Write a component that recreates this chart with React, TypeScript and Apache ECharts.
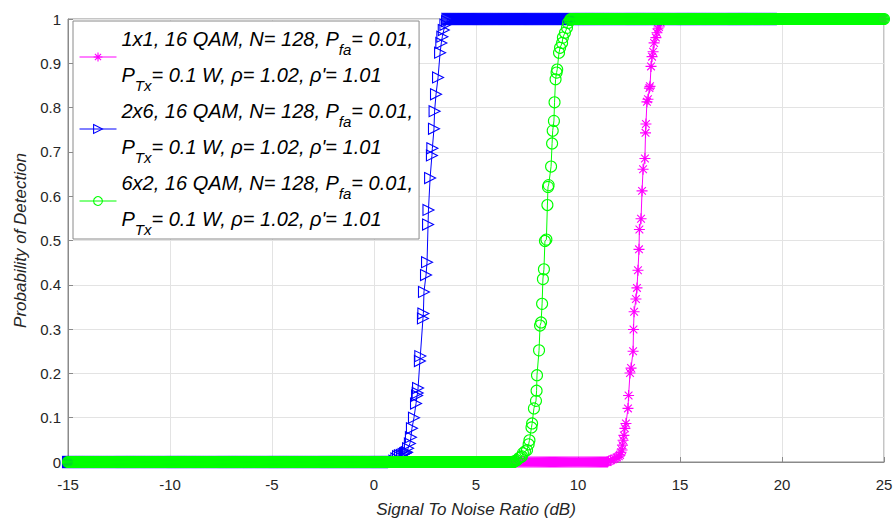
import { useEffect, useRef } from 'react';
import * as echarts from 'echarts';

// SNR sampling grid (dB) used by the simulation
const snrStart = -15;
const snrStep = 0.05;

// Series labels (rich text for subscripts)
const seriesNames = [
  '1x1, 16 QAM, N= 128, Pfa= 0.01, PTx= 0.1 W, ρ= 1.02, ρ\'= 1.01',
  '2x6, 16 QAM, N= 128, Pfa= 0.01, PTx= 0.1 W, ρ= 1.02, ρ\'= 1.01',
  '6x2, 16 QAM, N= 128, Pfa= 0.01, PTx= 0.1 W, ρ= 1.02, ρ\'= 1.01',
];
const legendLabels = [
  '1x1, 16 QAM, N= 128, P{s|fa}= 0.01,\nP{s|Tx}= 0.1 W, ρ= 1.02, ρ\'= 1.01',
  '2x6, 16 QAM, N= 128, P{s|fa}= 0.01,\nP{s|Tx}= 0.1 W, ρ= 1.02, ρ\'= 1.01',
  '6x2, 16 QAM, N= 128, P{s|fa}= 0.01,\nP{s|Tx}= 0.1 W, ρ= 1.02, ρ\'= 1.01',
];

// SNR range of each series
const seriesEnd = [25, 20, 25];

// Transition points [SNR dB, Pd]; before them Pd = 0, after them Pd = 1
const magentaTransition: number[][] = [
  [11.5, 0.002], [11.6, 0.004], [11.72, 0.006], [11.8, 0.008], [11.91, 0.010], [12.0, 0.013],
  [12.06, 0.016], [12.11, 0.022], [12.16, 0.027], [12.18, 0.038], [12.21, 0.049], [12.25, 0.060],
  [12.30, 0.076], [12.35, 0.087], [12.45, 0.121], [12.48, 0.150], [12.55, 0.201], [12.60, 0.212],
  [12.70, 0.250], [12.72, 0.299], [12.75, 0.339], [12.84, 0.368], [12.89, 0.393], [12.94, 0.433],
  [12.99, 0.480], [13.01, 0.525], [13.09, 0.549], [13.14, 0.612], [13.19, 0.661], [13.28, 0.685],
  [13.31, 0.743], [13.33, 0.763], [13.38, 0.813], [13.43, 0.819], [13.50, 0.844], [13.53, 0.848],
  [13.58, 0.893], [13.63, 0.915], [13.68, 0.926], [13.73, 0.946], [13.82, 0.958], [13.87, 0.969],
  [13.92, 0.978], [13.97, 0.982], [14.05, 0.992],
];
const blueTransition: number[][] = [
  [1.0, 0.003], [1.1, 0.008], [1.18, 0.013], [1.27, 0.015], [1.37, 0.016], [1.45, 0.018],
  [1.52, 0.020], [1.57, 0.021], [1.62, 0.022], [1.67, 0.031], [1.76, 0.042], [1.81, 0.056],
  [1.86, 0.076], [1.96, 0.100], [2.06, 0.132], [2.11, 0.150], [2.14, 0.156], [2.16, 0.167],
  [2.25, 0.228], [2.27, 0.239], [2.40, 0.324], [2.42, 0.335], [2.45, 0.384], [2.55, 0.422],
  [2.60, 0.451], [2.65, 0.536], [2.67, 0.569], [2.75, 0.641], [2.84, 0.692], [2.86, 0.708],
  [2.94, 0.752], [2.97, 0.792], [3.04, 0.830], [3.14, 0.868], [3.24, 0.924], [3.30, 0.946],
  [3.35, 0.960], [3.42, 0.975], [3.50, 0.987], [3.58, 0.995],
];
const greenTransition: number[][] = [
  [6.9, 0.002], [7.0, 0.004], [7.11, 0.009], [7.2, 0.011], [7.25, 0.013], [7.30, 0.020],
  [7.40, 0.024], [7.50, 0.027], [7.58, 0.040], [7.62, 0.049], [7.72, 0.078], [7.75, 0.087],
  [7.84, 0.121], [7.94, 0.138], [7.97, 0.161], [7.99, 0.196], [8.09, 0.252], [8.14, 0.308],
  [8.19, 0.315], [8.24, 0.357], [8.28, 0.413], [8.33, 0.435], [8.38, 0.499], [8.45, 0.502],
  [8.50, 0.580], [8.53, 0.621], [8.56, 0.625], [8.68, 0.667], [8.73, 0.719], [8.76, 0.748],
  [8.82, 0.770], [8.85, 0.812], [8.90, 0.864], [8.95, 0.879], [8.98, 0.886], [9.07, 0.924],
  [9.12, 0.935], [9.22, 0.946], [9.26, 0.958], [9.36, 0.969], [9.46, 0.980], [9.51, 0.991],
  [9.61, 0.998],
];

const xTicks = { min: -15, max: 25, interval: 5 };
const yTicks = { min: 0, max: 1, interval: 0.1 };

function buildData(transition: number[][], end: number): number[][] {
  const first = transition[0][0];
  const last = transition[transition.length - 1][0];
  const pts: number[][] = [];
  for (let i = 0; ; i++) {
    const x = +(snrStart + i * snrStep).toFixed(4);
    if (x > end + 1e-9) break;
    if (x < first - 1e-9) pts.push([x, 0]);
  }
  for (const p of transition) pts.push(p);
  for (let i = 0; ; i++) {
    const x = +(snrStart + i * snrStep).toFixed(4);
    if (x > end + 1e-9) break;
    if (x > last + 1e-9) pts.push([x, 1]);
  }
  return pts;
}

const FONT = '"Liberation Sans", Arial, Helvetica, sans-serif';

const symbols = [
  'path://M5 0L5 10M0 5L10 5M1.5 1.5L8.5 8.5M8.5 1.5L1.5 8.5',
  'path://M0 0L10 5L0 10Z',
  'circle',
];
const colors = ['#ff00ff', '#0000ff', '#00ff00'];
const transitions = [magentaTransition, blueTransition, greenTransition];

export default function App() {
  const ref = useRef<HTMLDivElement>(null);
  useEffect(() => {
    const chart = echarts.init(ref.current!, null, { renderer: 'svg' });
    const series = seriesNames.map((name, i) => ({
      name,
      type: 'line',
      data: buildData(transitions[i], seriesEnd[i]),
      symbol: symbols[i],
      symbolSize: 11,
      showSymbol: true,
      showAllSymbol: true,
      z: 2 + i,
      lineStyle: { color: colors[i], width: 1 },
      itemStyle: { color: 'rgba(0,0,0,0)', borderColor: colors[i], borderWidth: 1.1 },
      emphasis: { disabled: true },
      silent: true,
    }));
    chart.setOption({
      animation: false,
      grid: {
        left: 68,
        right: 12,
        top: 19,
        bottom: 56,
        show: true,
        borderColor: '#8a8a8a',
        borderWidth: 1,
        backgroundColor: '#fff',
      },
      xAxis: {
        type: 'value',
        min: xTicks.min,
        max: xTicks.max,
        interval: xTicks.interval,
        name: 'Signal To Noise Ratio (dB)',
        nameLocation: 'middle',
        nameGap: 39,
        nameTextStyle: { fontFamily: FONT, fontStyle: 'italic', fontSize: 17, color: '#262626' },
        axisLine: { show: true, onZero: false, lineStyle: { color: '#8a8a8a', width: 1 } },
        axisTick: { show: true, inside: true, length: 5, lineStyle: { color: '#8a8a8a' } },
        axisLabel: { fontFamily: FONT, fontSize: 15, color: '#262626', margin: 15 },
        splitLine: { show: true, lineStyle: { color: '#e3e3e3', width: 1 } },
      },
      yAxis: {
        type: 'value',
        min: yTicks.min,
        max: yTicks.max,
        interval: yTicks.interval,
        name: 'Probability of Detection',
        nameLocation: 'middle',
        nameGap: 34,
        nameTextStyle: { fontFamily: FONT, fontStyle: 'italic', fontSize: 17, color: '#262626' },
        axisLine: { show: true, onZero: false, lineStyle: { color: '#8a8a8a', width: 1 } },
        axisTick: { show: true, inside: true, length: 5, lineStyle: { color: '#8a8a8a' } },
        axisLabel: { fontFamily: FONT, fontSize: 15, color: '#262626', margin: 7 },
        splitLine: { show: true, lineStyle: { color: '#e3e3e3', width: 1 } },
      },
      legend: {
        show: true,
        orient: 'vertical',
        left: 73,
        top: 21,
        padding: [0, 6, 2, 6],
        itemGap: 0,
        itemWidth: 37,
        itemHeight: 11,
        backgroundColor: '#fff',
        borderColor: '#8a8a8a',
        borderWidth: 1,
        borderRadius: 0,
        selectedMode: false,
        data: seriesNames.map((name, i) => ({
          name,
          itemStyle: { color: 'rgba(0,0,0,0)', borderColor: colors[i], borderWidth: 1.1 },
          lineStyle: { color: colors[i], width: 1 },
        })),
        formatter: (name: string) => legendLabels[seriesNames.indexOf(name)],
        textStyle: {
          fontFamily: FONT,
          fontStyle: 'italic',
          fontSize: 20,
          color: '#000',
          lineHeight: 36,
          rich: {
            s: {
              fontFamily: FONT,
              fontStyle: 'italic',
              fontSize: 15,
              color: '#000',
              lineHeight: 15,
              verticalAlign: 'bottom',
            },
          },
        },
      },
      series,
    });
    return () => chart.dispose();
  }, []);
  return (
    <div
      ref={ref}
      style={{ position: 'fixed', left: 0, top: 0, width: 896, height: 523, background: '#fff' }}
    />
  );
}
